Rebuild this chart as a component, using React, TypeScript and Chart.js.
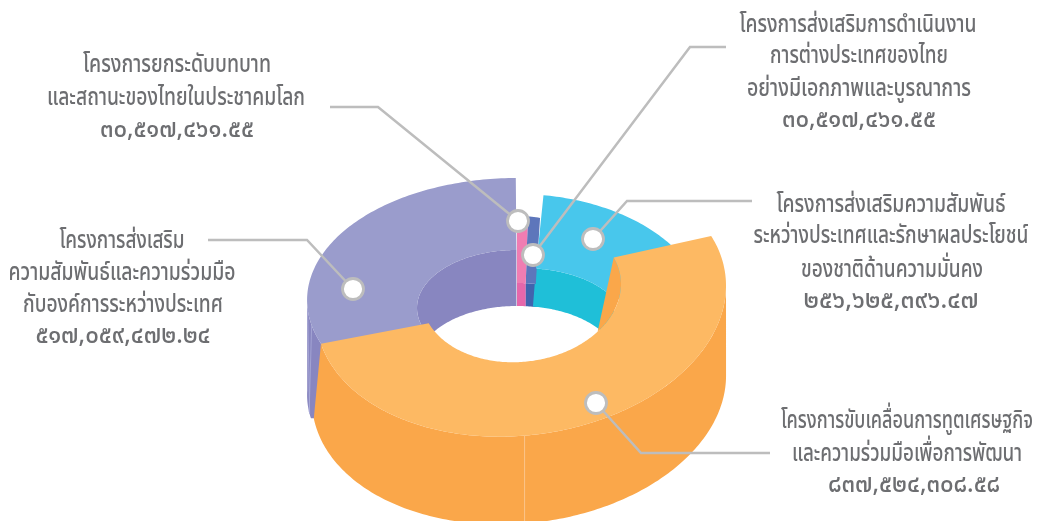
import React, { useEffect, useRef } from "react";
import { Chart, registerables } from "chart.js";

Chart.register(...registerables);

// ---- data ----
const categories = [
  "โครงการยกระดับบทบาทและสถานะของไทยในประชาคมโลก",
  "โครงการส่งเสริมการดำเนินงานการต่างประเทศของไทยอย่างมีเอกภาพและบูรณาการ",
  "โครงการส่งเสริมความสัมพันธ์ระหว่างประเทศและรักษาผลประโยชน์ของชาติด้านความมั่นคง",
  "โครงการขับเคลื่อนการทูตเศรษฐกิจและความร่วมมือเพื่อการพัฒนา",
  "โครงการส่งเสริมความสัมพันธ์และความร่วมมือกับองค์การระหว่างประเทศ",
];
const budgetValues = [30517461.55, 30517461.55, 256625396.47, 837524308.58, 517059472.24];
const topColors = ["#f07db2", "#5d76bb", "#48c7ec", "#fdb963", "#9a9ccc"];
const wallColors = ["#e667ab", "#4164ae", "#1fbfd8", "#faa74a", "#8886c0"];

const labelLines = [
  ["โครงการยกระดับบทบาท", "และสถานะของไทยในประชาคมโลก", "๓๐,๕๑๗,๔๖๑.๕๕"],
  ["โครงการส่งเสริมการดำเนินงาน", "การต่างประเทศของไทย", "อย่างมีเอกภาพและบูรณาการ", "๓๐,๕๑๗,๔๖๑.๕๕"],
  ["โครงการส่งเสริมความสัมพันธ์", "ระหว่างประเทศและรักษาผลประโยชน์", "ของชาติด้านความมั่นคง", "๒๕๖,๖๒๕,๓๙๖.๔๗"],
  ["โครงการขับเคลื่อนการทูตเศรษฐกิจ", "และความร่วมมือเพื่อการพัฒนา", "๘๓๗,๕๒๔,๓๐๘.๕๘"],
  ["โครงการส่งเสริม", "ความสัมพันธ์และความร่วมมือ", "กับองค์การระหว่างประเทศ", "๕๑๗,๐๕๙,๔๗๒.๒๔"],
];

// ---- layout / style (separate from the data) ----
// [x, baseline y, max width] of every text line
const labelPlacement = [
  [[177, 72, 188], [176, 105, 258], [177, 137, 154]],
  [[858, 32, 237], [859, 63, 178], [859, 96, 224], [859, 127, 154]],
  [[891, 212, 229], [891, 243, 275], [892, 277, 182], [891, 308, 175]],
  [[907, 428, 252], [907, 461, 230], [914, 492, 172]],
  [[122, 248, 125], [122, 280, 227], [123, 312, 200], [123, 343, 175]],
];
const leaderPaths = [
  [[330, 107], [378, 107], [518, 221]],
  [[726, 47], [690, 47], [533, 255]],
  [[752, 201], [627, 201], [593, 239]],
  [[770, 453], [641, 453], [596, 403]],
  [[208, 240], [307, 240], [353, 289]],
];
const leaderColor = "#bdbdbd";
const textColor = "#6d6e71";
const FONT = '"Noto Sans", "Noto Sans Thai", "DejaVu Sans", sans-serif';

type Ring = { dx: number; dy: number; sx: number; sy: number; sh?: number };
const purpleRings = {
  to: { dx: 0, dy: 0, sx: 1.024, sy: 0.595 },
  ti: { dx: 0, dy: 8, sx: 1, sy: 0.58 },
  bi: { dx: 0, dy: 64, sx: 1, sy: 0.58 },
  bo: { dx: 0, dy: 95, sx: 1.024, sy: 0.595 },
};
const lowRings = {
  to: { dx: 0, dy: 21, sx: 0.6, sy: 0.512 },
  ti: { dx: 0, dy: 38, sx: 1, sy: 0.55 },
  bi: { dx: 0, dy: 64, sx: 1, sy: 0.58 },
};
const cyanRings = {
  to: { dx: 0, dy: 17, sx: 0.927, sy: 0.6 },
  ti: { dx: 5, dy: 20, sx: 1, sy: 0.52 },
  bi: { dx: 2, dy: 64, sx: 1, sy: 0.58 },
};
const orangeRings = {
  to: { dx: 4, dy: 0, sx: 1, sy: 0.663, sh: 0.07 },
  ti: { dx: 4, dy: -10, sx: 1, sy: 0.72, sh: 0.06 },
  bo: { dx: 2, dy: 88, sx: 1.01, sy: 0.663, sh: 0.06 },
};

function pt(arc: any, ring: Ring, radius: number, deg: number): [number, number] {
  const t = (deg * Math.PI) / 180;
  const ox = radius * ring.sx * Math.sin(t);
  const x = arc.x + ring.dx + ox;
  const y = arc.y + ring.dy - radius * ring.sy * Math.cos(t) - (ring.sh || 0) * ox;
  return [x, y];
}
function trace(ctx: CanvasRenderingContext2D, arc: any, ring: Ring, radius: number, from: number, to: number, first: boolean) {
  const n = Math.max(2, Math.ceil(Math.abs(to - from)));
  for (let i = 0; i <= n; i++) {
    const p = pt(arc, ring, radius, from + ((to - from) * i) / n);
    if (first && i === 0) ctx.moveTo(p[0], p[1]);
    else ctx.lineTo(p[0], p[1]);
  }
}
const band = (ctx: CanvasRenderingContext2D, color: string, draw: () => void) => {
  ctx.beginPath();
  draw();
  ctx.closePath();
  ctx.fillStyle = color;
  ctx.fill();
};

const donut3d = {
  id: "donut3d",
  beforeDatasetsDraw(chart: any) {
    const ctx: CanvasRenderingContext2D = chart.ctx;
    const arcs = chart.getDatasetMeta(0).data;
    const deg = (a: number) => (a * 180) / Math.PI + 90;
    const g = arcs.map((el: any) => {
      const p = el.getProps(["x", "y", "startAngle", "endAngle", "innerRadius", "outerRadius"], true);
      return { arc: p, s: deg(p.startAngle), e: deg(p.endAngle), R: p.outerRadius, r: p.innerRadius };
    });
    const [pink, blue, cyan, orange, purple] = g;
    const top = (o: any, rings: any, color: string, s: number, e: number, sIn = s, eIn = e) =>
      band(ctx, color, () => {
        trace(ctx, o.arc, rings.to, o.R, s, e, true);
        trace(ctx, o.arc, rings.ti, o.r, eIn, sIn, false);
      });
    const wall = (o: any, rings: any, color: string, s: number, e: number) =>
      band(ctx, color, () => {
        trace(ctx, o.arc, rings.ti, o.r, s, e, true);
        trace(ctx, o.arc, rings.bi, o.r, e, s, false);
      });

    // inner walls at the back
    wall(pink, lowRings, wallColors[0], pink.s + 0.3, pink.e - 1.2);
    wall(blue, lowRings, wallColors[1], blue.s - 1.2, blue.e - 2);
    wall(cyan, cyanRings, wallColors[2], cyan.s - 4.8, cyan.e);
    wall(purple, purpleRings, wallColors[4], purple.s, purple.e);

    // purple outer wall, the strip left of the orange slice
    band(ctx, wallColors[4], () => {
      trace(ctx, purple.arc, purpleRings.to, purple.R, purple.s, 272, true);
      trace(ctx, purple.arc, purpleRings.bo, purple.R, 272, 259, false);
      const tip = pt(purple.arc, purpleRings.bo, purple.R, 259);
      ctx.lineTo(tip[0] + 7, tip[1]);
    });
    // faint facets on the strip
    [[266, 261], [258, 262]].forEach(([a, b]) => {
      const p = pt(purple.arc, purpleRings.to, purple.R, a);
      const q = pt(purple.arc, purpleRings.bo, purple.R, b);
      ctx.beginPath();
      ctx.moveTo(p[0], p[1]);
      ctx.lineTo(q[0], q[1]);
      ctx.strokeStyle = "#a9abd8";
      ctx.lineWidth = 0.8;
      ctx.stroke();
    });

    // top faces of the back slices
    top(blue, lowRings, topColors[1], blue.s - 1.2, blue.e - 2);
    top(pink, lowRings, topColors[0], pink.s + 0.3, pink.e - 1.2);
    top(cyan, cyanRings, topColors[2], cyan.s - 4.8, cyan.e);
    top(purple, purpleRings, topColors[4], purple.s, purple.e);

    // orange: inner wall wedge, outer wall, seam, top
    band(ctx, wallColors[3], () => {
      trace(ctx, orange.arc, orangeRings.ti, orange.r, orange.s, 130, true);
    });
    band(ctx, wallColors[3], () => {
      trace(ctx, orange.arc, orangeRings.to, orange.R, 90, orange.e + 9, true);
      trace(ctx, orange.arc, orangeRings.bo, orange.R, orange.e + 14, 90, false);
    });
    ctx.beginPath();
    const sa = pt(orange.arc, orangeRings.to, orange.R, 179);
    const sb = pt(orange.arc, orangeRings.bo, orange.R, 179);
    ctx.moveTo(sa[0], sa[1]);
    ctx.lineTo(sa[0], sb[1]);
    ctx.strokeStyle = "#fbc48a";
    ctx.lineWidth = 1;
    ctx.stroke();
    top(orange, orangeRings, topColors[3], orange.s, orange.e + 9, orange.s, orange.e - 1);

    // leaders and their markers
    leaderPaths.forEach((path) => {
      ctx.beginPath();
      path.forEach((p, i) => (i ? ctx.lineTo(p[0], p[1]) : ctx.moveTo(p[0], p[1])));
      ctx.strokeStyle = leaderColor;
      ctx.lineWidth = 2.5;
      ctx.stroke();
    });
    leaderPaths.forEach((path) => {
      const p = path[path.length - 1];
      ctx.beginPath();
      ctx.arc(p[0], p[1], 10.5, 0, Math.PI * 2);
      ctx.fillStyle = "#ffffff";
      ctx.fill();
      ctx.strokeStyle = leaderColor;
      ctx.lineWidth = 2.8;
      ctx.stroke();
    });

    // labels
    ctx.fillStyle = textColor;
    ctx.textAlign = "center";
    ctx.textBaseline = "alphabetic";
    ctx.font = `500 25px ${FONT}`;
    labelLines.forEach((lines, i) =>
      lines.forEach((line, j) => {
        const [x, y, w] = labelPlacement[i][j];
        ctx.fillText(line, x, y, w);
      })
    );
    return false;
  },
};

export default function App() {
  const ref = useRef<HTMLCanvasElement>(null);
  useEffect(() => {
    document.body.style.margin = "0";
    document.body.style.background = "#ffffff";
    const chart = new Chart(ref.current as HTMLCanvasElement, {
      type: "doughnut",
      data: {
        labels: categories,
        datasets: [{ data: budgetValues, backgroundColor: topColors, borderWidth: 0 }],
      },
      options: {
        responsive: false,
        animation: false,
        rotation: -0.33,
        cutout: "48.78%",
        layout: { padding: { left: 312, right: 335, top: 95, bottom: 16 } },
        plugins: { legend: { display: false }, tooltip: { enabled: false } },
      },
      plugins: [donut3d],
    } as any);
    return () => chart.destroy();
  }, []);
  return <canvas ref={ref} width={1057} height={521} style={{ display: "block" }} />;
}
